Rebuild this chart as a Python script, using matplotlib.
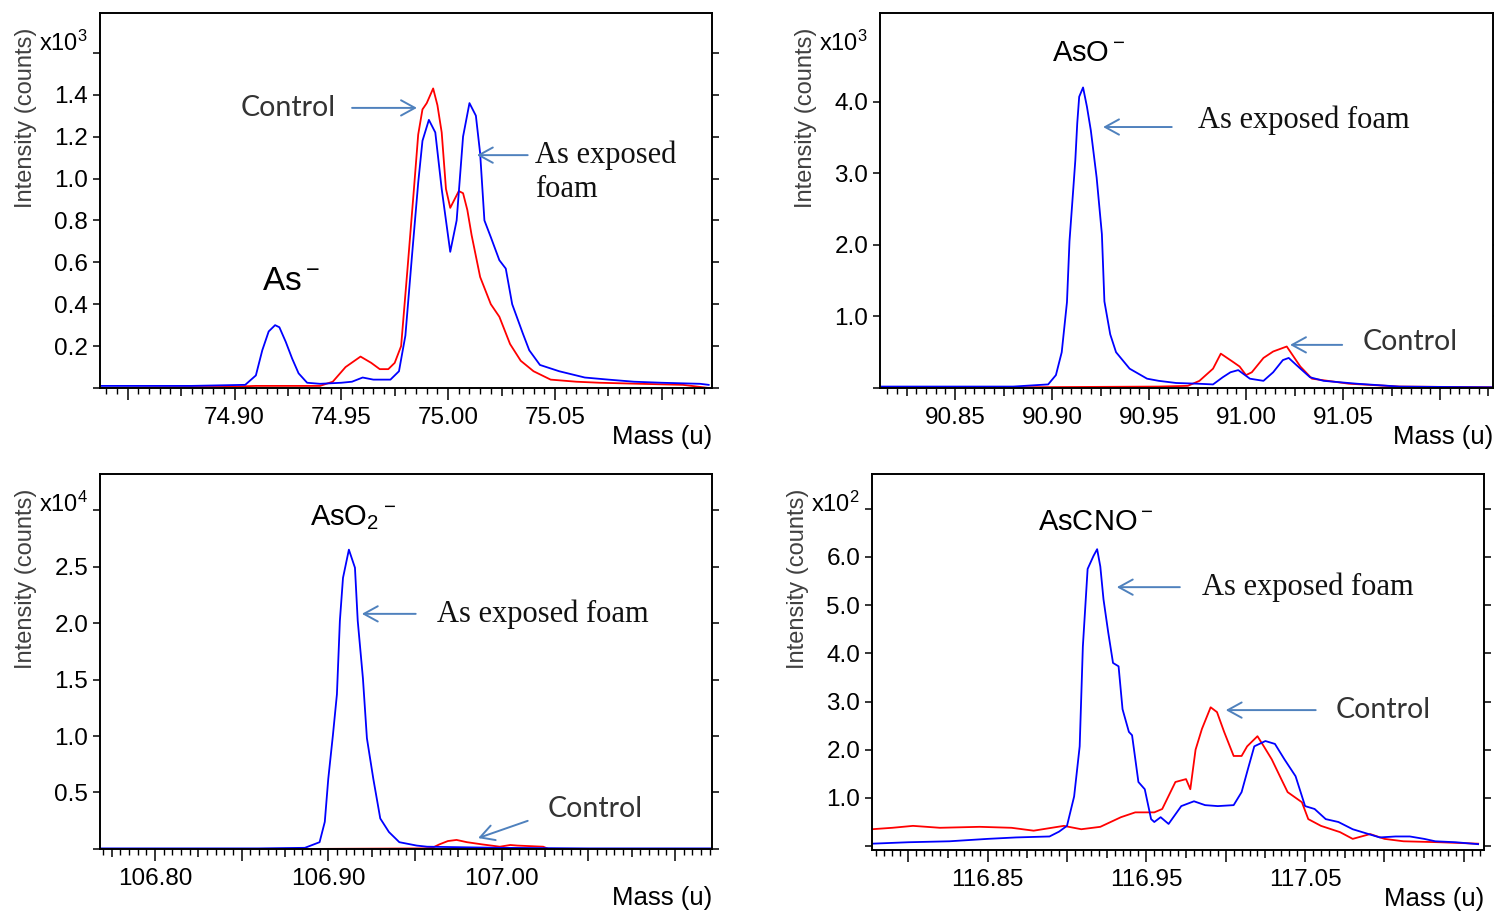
import numpy as np
import matplotlib
matplotlib.use('Agg')
import matplotlib.pyplot as plt
from matplotlib.ticker import FixedLocator, FixedFormatter, MultipleLocator

plt.rcParams['font.family'] = ['Liberation Sans', 'DejaVu Sans']
plt.rcParams['mathtext.fontset'] = 'custom'
plt.rcParams['mathtext.rm'] = 'Liberation Sans'

BLUE = '#0000ff'
RED = '#ff0000'
ARROW = '#4f81bd'

# ---- As- (x10^3 counts) ----
as_mass_exp = [74.837, 74.880, 74.905, 74.910, 74.913, 74.916, 74.919, 74.921, 74.924, 74.927,
               74.930, 74.934, 74.940, 74.950, 74.955, 74.960, 74.965, 74.973, 74.977, 74.980,
               74.983, 74.986, 74.988, 74.991, 74.994, 74.997, 75.001, 75.004, 75.007, 75.010,
               75.013, 75.015, 75.017, 75.020, 75.024, 75.027, 75.030, 75.035, 75.038, 75.043,
               75.052, 75.064, 75.075, 75.087, 75.100, 75.118, 75.122]
as_int_exp = [0.01, 0.01, 0.015, 0.06, 0.18, 0.27, 0.30, 0.29, 0.22, 0.14,
              0.07, 0.025, 0.02, 0.025, 0.03, 0.05, 0.04, 0.04, 0.08, 0.25,
              0.62, 0.98, 1.18, 1.28, 1.22, 0.95, 0.65, 0.80, 1.20, 1.36,
              1.30, 1.12, 0.80, 0.72, 0.61, 0.57, 0.40, 0.26, 0.18, 0.11,
              0.08, 0.05, 0.04, 0.03, 0.025, 0.02, 0.015]
as_mass_ctl = [74.837, 74.895, 74.910, 74.940, 74.946, 74.952, 74.959, 74.964, 74.968, 74.972,
               74.975, 74.978, 74.981, 74.984, 74.986, 74.988, 74.990, 74.993, 74.995, 74.997,
               74.999, 75.001, 75.005, 75.007, 75.009, 75.011, 75.015, 75.020, 75.024, 75.029,
               75.034, 75.040, 75.048, 75.060, 75.071, 75.090, 75.110, 75.122]
as_int_ctl = [0.0, 0.005, 0.01, 0.01, 0.03, 0.10, 0.15, 0.12, 0.09, 0.09,
              0.12, 0.20, 0.57, 0.95, 1.21, 1.33, 1.36, 1.43, 1.35, 1.22,
              0.95, 0.86, 0.94, 0.93, 0.85, 0.73, 0.53, 0.40, 0.34, 0.21,
              0.13, 0.08, 0.04, 0.03, 0.025, 0.02, 0.015, 0.0]

# ---- AsO- (x10^3 counts) ----
aso_mass_exp = [90.811, 90.850, 90.880, 90.898, 90.902, 90.905, 90.9077, 90.909, 90.911, 90.912,
                90.913, 90.914, 90.916, 90.918, 90.920, 90.923, 90.9257, 90.927, 90.930, 90.933,
                90.940, 90.949, 90.955, 90.964, 90.975, 90.983, 90.988, 90.992, 90.996, 91.002,
                91.009, 91.014, 91.019, 91.022, 91.026, 91.033, 91.040, 91.057, 91.079, 91.100,
                91.127]
aso_int_exp = [0.02, 0.02, 0.02, 0.05, 0.18, 0.5, 1.2, 2.05, 2.8, 3.18,
               3.7, 4.07, 4.2, 3.93, 3.6, 2.94, 2.15, 1.21, 0.75, 0.5,
               0.27, 0.13, 0.10, 0.07, 0.06, 0.05, 0.15, 0.22, 0.25, 0.13,
               0.10, 0.22, 0.39, 0.42, 0.32, 0.15, 0.10, 0.06, 0.02, 0.015,
               0.01]
aso_mass_ctl = [90.811, 90.883, 90.955, 90.970, 90.976, 90.983, 90.987, 90.993, 90.9967, 91.000,
                91.003, 91.009, 91.014, 91.021, 91.024, 91.028, 91.034, 91.053, 91.079, 91.127]
aso_int_ctl = [0.0, 0.01, 0.02, 0.03, 0.10, 0.27, 0.48, 0.37, 0.30, 0.18,
               0.22, 0.42, 0.51, 0.58, 0.46, 0.30, 0.13, 0.06, 0.02, 0.01]

# ---- AsO2- (x10^4 counts) ----
aso2_mass_exp = [106.768, 106.860, 106.8865, 106.895, 106.898, 106.900, 106.9027, 106.905, 106.9067,
                 106.9085, 106.9119, 106.9154, 106.917, 106.920, 106.9223, 106.926, 106.930, 106.935,
                 106.941, 106.951, 106.957, 106.999, 107.050, 107.121]
aso2_int_exp = [0.005, 0.005, 0.01, 0.06, 0.24, 0.62, 1.01, 1.37, 2.02,
                2.40, 2.65, 2.49, 2.02, 1.51, 0.98, 0.62, 0.27, 0.15,
                0.06, 0.03, 0.02, 0.01, 0.005, 0.005]
aso2_mass_ctl = [106.768, 106.886, 106.955, 106.960, 106.964, 106.969, 106.974, 106.980, 106.989,
                 106.999, 107.005, 107.009, 107.024, 107.027, 107.121]
aso2_int_ctl = [0.0, 0.0, 0.005, 0.01, 0.04, 0.07, 0.08, 0.06, 0.04,
                0.02, 0.035, 0.03, 0.02, 0.0, 0.0]

# ---- AsCNO- (x10^2 counts) ----
ascno_mass_exp = [116.777, 116.800, 116.826, 116.850, 116.868, 116.889, 116.895, 116.900, 116.9045,
                  116.908, 116.910, 116.913, 116.9167, 116.919, 116.921, 116.923, 116.926, 116.929,
                  116.9325, 116.935, 116.939, 116.941, 116.945, 116.949, 116.953, 116.955, 116.959,
                  116.964, 116.972, 116.980, 116.987, 116.995, 117.005, 117.010, 117.014, 117.018,
                  117.025, 117.031, 117.037, 117.044, 117.050, 117.056, 117.063, 117.071, 117.080,
                  117.090, 117.097, 117.107, 117.116, 117.125, 117.132, 117.145, 117.159]
ascno_int_exp = [0.05, 0.08, 0.10, 0.15, 0.18, 0.20, 0.30, 0.42, 1.03,
                 2.07, 4.14, 5.75, 6.02, 6.16, 5.80, 5.12, 4.43, 3.80,
                 3.73, 2.84, 2.37, 2.30, 1.33, 1.18, 0.56, 0.50, 0.60,
                 0.46, 0.83, 0.93, 0.85, 0.83, 0.85, 1.12, 1.60, 2.07,
                 2.18, 2.12, 1.80, 1.45, 0.83, 0.77, 0.56, 0.50, 0.35,
                 0.25, 0.18, 0.20, 0.20, 0.15, 0.10, 0.08, 0.04]
ascno_mass_ctl = [116.777, 116.790, 116.803, 116.820, 116.845, 116.865, 116.879, 116.898, 116.909,
                  116.921, 116.934, 116.943, 116.955, 116.960, 116.9683, 116.975, 116.9777, 116.981,
                  116.985, 116.9905, 116.9945, 116.999, 117.005, 117.010, 117.0135, 117.020, 117.024,
                  117.029, 117.035, 117.039, 117.048, 117.052, 117.060, 117.072, 117.080, 117.091,
                  117.100, 117.112, 117.135, 117.159]
ascno_int_ctl = [0.35, 0.38, 0.42, 0.38, 0.40, 0.38, 0.32, 0.42, 0.35,
                 0.40, 0.60, 0.70, 0.70, 0.77, 1.33, 1.39, 1.18, 2.00,
                 2.43, 2.88, 2.78, 2.37, 1.87, 1.87, 2.07, 2.28, 2.07,
                 1.80, 1.39, 1.12, 0.91, 0.56, 0.42, 0.29, 0.15, 0.25,
                 0.15, 0.10, 0.08, 0.05]

# tick labels
as_xlabels = ['74.90', '74.95', '75.00', '75.05']
aso_xlabels = ['90.85', '90.90', '90.95', '91.00', '91.05']
aso2_xlabels = ['106.80', '106.90', '107.00']
ascno_xlabels = ['116.85', '116.95', '117.05']
as_yticks = [0, 0.2, 0.4, 0.6, 0.8, 1.0, 1.2, 1.4, 1.6]
as_ylabels = ['', '0.2', '0.4', '0.6', '0.8', '1.0', '1.2', '1.4', '']
aso_yticks = [0, 1, 2, 3, 4]
aso_ylabels = ['', '1.0', '2.0', '3.0', '4.0']
aso2_yticks = [0, 0.5, 1.0, 1.5, 2.0, 2.5, 3.0]
aso2_ylabels = ['', '0.5', '1.0', '1.5', '2.0', '2.5', '']
ascno_yticks = [0, 1, 2, 3, 4, 5, 6, 7]
ascno_ylabels = ['', '1.0', '2.0', '3.0', '4.0', '5.0', '6.0', '']


def style_axes(ax, xlim, ylim, xlabeled, yticks, ylabels, exp):
    ax.set_xlim(xlim)
    ax.set_ylim(ylim)
    start = np.ceil(xlim[0] / 0.025) * 0.025
    xt = np.round(np.arange(start, xlim[1], 0.025), 3)
    xl = [f'{t:.2f}' if f'{t:.2f}' in xlabeled and np.isclose(t * 20, round(t * 20)) else '' for t in xt]
    ax.xaxis.set_major_locator(FixedLocator(xt))
    ax.xaxis.set_major_formatter(FixedFormatter(xl))
    ax.xaxis.set_minor_locator(MultipleLocator(0.005))
    ax.yaxis.set_major_locator(FixedLocator(yticks))
    ax.yaxis.set_major_formatter(FixedFormatter(ylabels))
    ax.tick_params(axis='x', which='major', direction='out', length=8.6, width=1.1,
                   pad=5, labelsize=17.5)
    ax.tick_params(axis='x', which='minor', direction='out', length=4.3, width=1.0)
    ax.tick_params(axis='y', direction='out', length=5, width=1.1, pad=3.5,
                   labelsize=17.5, right=True)
    # the ticks half way between labelled ones are a little shorter
    for loc, tick in zip(xt, ax.xaxis.get_major_ticks()):
        if not np.isclose(loc * 20, round(loc * 20)):
            tick.tick1line.set_markersize(5.6)
    for sp in ax.spines.values():
        sp.set_linewidth(1.4)
    ax.text(1.0, -0.131, 'Mass (u)', transform=ax.transAxes, ha='right', va='center',
            fontsize=18.5)
    ax.text(-0.121, 0.72, 'Intensity (counts)', transform=ax.transAxes, rotation=90,
            ha='center', va='center', fontsize=17, color='#404040')
    ax.text(-0.0196, 0.92, r'$\mathregular{x10^%d}$' % exp, transform=ax.transAxes,
            ha='right', va='center', fontsize=17)


def arrow(ax, x0, x1, y0, y1):
    ax.annotate('', xy=(x1, y1), xytext=(x0, y0), xycoords='axes fraction',
                textcoords='axes fraction',
                arrowprops=dict(arrowstyle='->,head_length=1.0,head_width=0.55',
                                color=ARROW, lw=1.4, shrinkA=0, shrinkB=0))


def note(ax, x, y, s, serif=False):
    if serif:
        ax.text(x, y, s, transform=ax.transAxes, ha='left', va='center', fontsize=22,
                family=['Liberation Serif', 'DejaVu Serif'], color='#111111', linespacing=1.25)
    else:
        ax.text(x, y, s, transform=ax.transAxes, ha='left', va='center', fontsize=20.5,
                family=['Lato', 'DejaVu Sans'], color='#333333')


fig = plt.figure(figsize=(14.94, 9.11), dpi=100)
ax1 = fig.add_axes([0.0669, 0.5741, 0.4096, 0.4116])
ax2 = fig.add_axes([0.5890, 0.5741, 0.4103, 0.4116])
ax3 = fig.add_axes([0.0669, 0.0681, 0.4096, 0.4116])
ax4 = fig.add_axes([0.5837, 0.0670, 0.4096, 0.4127])

# As-
ax1.plot(as_mass_ctl, as_int_ctl, color=RED, lw=1.3)
ax1.plot(as_mass_exp, as_int_exp, color=BLUE, lw=1.3)
style_axes(ax1, (74.837, 75.1235), (0, 1.79), as_xlabels, as_yticks, as_ylabels, 3)
note(ax1, 0.23, 0.747, 'Control')
arrow(ax1, 0.412, 0.518, 0.747, 0.747)
note(ax1, 0.711, 0.576, 'As exposed\nfoam', serif=True)
arrow(ax1, 0.699, 0.616, 0.621, 0.621)
ax1.text(0.265, 0.283, r'$\mathregular{As^-}$', transform=ax1.transAxes, ha='left',
         va='center', fontsize=24)

# AsO-
ax2.plot(aso_mass_ctl, aso_int_ctl, color=RED, lw=1.3)
ax2.plot(aso_mass_exp, aso_int_exp, color=BLUE, lw=1.3)
style_axes(ax2, (90.8113, 91.1273), (0, 5.24), aso_xlabels, aso_yticks, aso_ylabels, 3)
ax2.text(0.281, 0.893, r'$\mathregular{AsO^-}$', transform=ax2.transAxes, ha='left',
         va='center', fontsize=21)
note(ax2, 0.519, 0.715, 'As exposed foam', serif=True)
arrow(ax2, 0.476, 0.364, 0.696, 0.696)
note(ax2, 0.788, 0.123, 'Control')
arrow(ax2, 0.754, 0.669, 0.115, 0.115)

# AsO2-
ax3.plot(aso2_mass_ctl, aso2_int_ctl, color=RED, lw=1.3)
ax3.plot(aso2_mass_exp, aso2_int_exp, color=BLUE, lw=1.3)
style_axes(ax3, (106.7683, 107.1213), (0, 3.32), aso2_xlabels, aso2_yticks, aso2_ylabels, 4)
ax3.text(0.343, 0.883, r'$\mathregular{AsO_2{}^-}$', transform=ax3.transAxes, ha='left',
         va='center', fontsize=21)
note(ax3, 0.551, 0.627, 'As exposed foam', serif=True)
arrow(ax3, 0.516, 0.428, 0.627, 0.627)
note(ax3, 0.732, 0.107, 'Control')
arrow(ax3, 0.699, 0.618, 0.075, 0.029)

# AsCNO-
ax4.plot(ascno_mass_ctl, ascno_int_ctl, color=RED, lw=1.3)
ax4.plot(ascno_mass_exp, ascno_int_exp, color=BLUE, lw=1.3)
style_axes(ax4, (116.7772, 117.1627), (-0.08, 7.72), ascno_xlabels, ascno_yticks, ascno_ylabels, 2)
ax4.text(0.271, 0.872, r'$\mathregular{AsCNO^-}$', transform=ax4.transAxes, ha='left',
         va='center', fontsize=21)
note(ax4, 0.539, 0.699, 'As exposed foam', serif=True)
arrow(ax4, 0.503, 0.400, 0.699, 0.699)
note(ax4, 0.758, 0.372, 'Control')
arrow(ax4, 0.725, 0.578, 0.372, 0.372)

fig.savefig('out.png', dpi=100)
